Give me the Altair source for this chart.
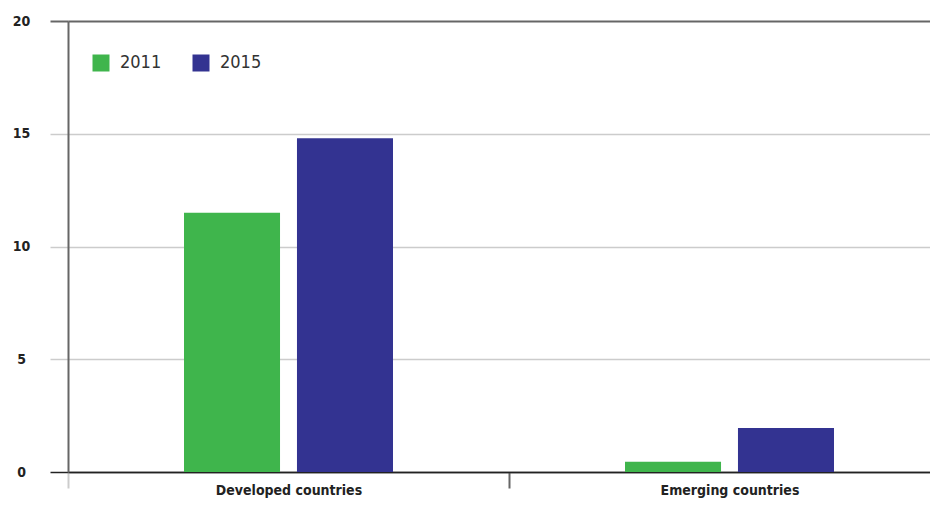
import altair as alt
import pandas as pd

regions = ["Developed countries", "Emerging countries"]
years = ["2011", "2015"]
values_2011 = [11.5, 0.45]
values_2015 = [14.8, 1.95]
y_ticks = [0, 5, 10, 15, 20]
colors = ["#3fb54c", "#333391"]

rows = []
for i, r in enumerate(regions):
    rows.append({"region": r, "year": years[0], "value": values_2011[i]})
    rows.append({"region": r, "year": years[1], "value": values_2015[i]})
df = pd.DataFrame(rows)

FONT = "DejaVu Sans Condensed, Liberation Sans Narrow, sans-serif"

chart = alt.Chart(df).mark_bar().encode(
    x=alt.X(
        "region:N",
        sort=regions,
        scale=alt.Scale(range=[0, 882], paddingInner=0, paddingOuter=0),
        axis=alt.Axis(
            title=None,
            labelAngle=0,
            labelFont=FONT,
            labelFontSize=14,
            labelFontWeight="bold",
            labelColor="#222",
            labelPadding=-5,
            tickBand="extent",
            tickSize=16,
            tickColor={"condition": {"test": "datum.value === 'Developed countries'", "value": "#666"}, "value": "#ccc"},
            tickWidth=2,
            domainColor="#222",
            domainWidth=1.5,
        ),
    ),
    xOffset=alt.XOffset(
        "year:N",
        sort=years,
        scale=alt.Scale(range=[116, 325], paddingInner=0.15, paddingOuter=0),
    ),
    y=alt.Y(
        "value:Q",
        scale=alt.Scale(domain=[0, 20], nice=False),
        axis=alt.Axis(
            title=None,
            values=y_ticks,
            grid=True,
            gridColor={"condition": [
                {"test": "datum.value === 20", "value": "#666"},
                {"test": "datum.value === 0", "value": "#222"},
            ], "value": "#ccc"},
            gridWidth={"condition": {"test": "datum.value === 20", "value": 2}, "value": 1.5},
            tickColor={"condition": [
                {"test": "datum.value === 20", "value": "#666"},
                {"test": "datum.value === 0", "value": "#222"},
            ], "value": "#ccc"},
            tickWidth={"condition": {"test": "datum.value === 20", "value": 2}, "value": 1.5},
            tickSize=18,
            labelAlign="center",
            labelBaseline="middle",
            labelPadding=29,
            labelFont=FONT,
            labelFontSize=14,
            labelFontWeight="bold",
            labelColor="#222",
            domainColor="#666",
            domainWidth=2,
        ),
    ),
    color=alt.Color(
        "year:N",
        sort=years,
        scale=alt.Scale(domain=years, range=colors),
        legend=alt.Legend(
            title=None,
            orient="none",
            legendX=24,
            legendY=33,
            direction="horizontal",
            symbolType="square",
            symbolSize=289,
            symbolStrokeWidth=0,
            symbolOpacity=1,
            labelFont=FONT,
            labelFontSize=18,
            labelColor="#333",
            labelOffset=10,
            columnPadding=30,
            padding=0,
        ),
    ),
).properties(
    width=862,
    height=451,
    autosize=alt.AutoSizeParams(type="none"),
    padding={"left": 60, "top": 13, "right": 0, "bottom": 28},
).configure_view(stroke=None).configure(background="white")

chart.save("out.html", embed_options={"renderer": "svg", "actions": False})
